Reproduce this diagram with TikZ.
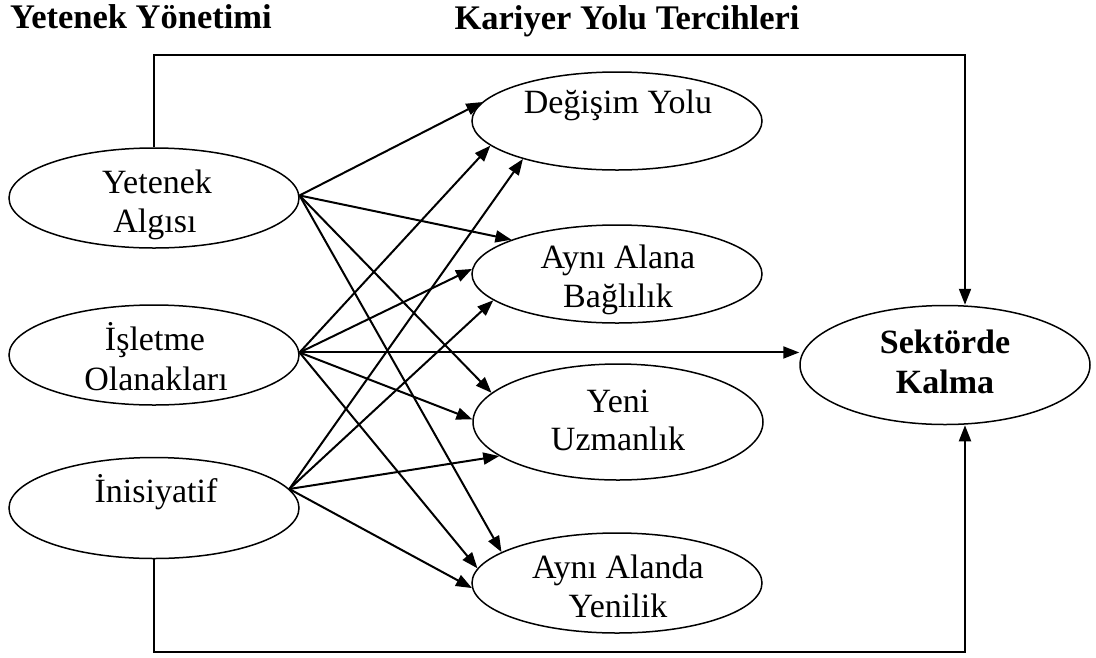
\documentclass[tikz,border=0pt]{standalone}
\usepackage{fontspec}
\setmainfont{Liberation Serif}
\usetikzlibrary{shapes.geometric,arrows.meta}
\begin{document}
\begin{tikzpicture}[x=1pt,y=-1pt,
  oval/.style={draw, ellipse, line width=1.5pt, inner sep=0pt, minimum width=290pt},
  lbl/.style={anchor=base, inner sep=0pt, font=\fontsize{34}{39}\selectfont},
  blbl/.style={lbl, font=\fontsize{34}{39}\selectfont\bfseries},
  ttl/.style={anchor=base, inner sep=0pt, font=\fontsize{34.5}{40}\selectfont\bfseries},
  link/.style={line width=2pt},
  arr/.style={link, -{Triangle[length=16pt,width=12pt]}}]
\useasboundingbox[fill=white] (0,0) rectangle (1096,657);

% headings
\node[ttl] (h1) at (141,28) {Yetenek Yönetimi};
\node[ttl] (h2) at (627,29) {Kariyer Yolu Tercihleri};

% talent management factors
\node[oval, minimum height=100pt] (YA) at (154,198) {};
\node[oval, minimum height=100pt] (IO) at (154,355) {};
\node[oval, minimum height=101pt] (In) at (154,508) {};
\node[lbl] (YAa) at (157,193) {Yetenek};
\node[lbl] (YAb) at (155,232) {Algısı};
\node[lbl] (IOa) at (155,350) {İşletme};
\node[lbl] (IOb) at (156,390) {Olanakları};
\node[lbl] (Ina) at (156,502) {İnisiyatif};

% career path preferences
\node[oval, minimum height=98pt]  (DY)  at (617,121) {};
\node[oval, minimum height=98pt]  (AAB) at (617,274) {};
\node[oval, minimum height=116pt] (YU)  at (618,422) {};
\node[oval, minimum height=100pt] (AAY) at (617,583) {};
\node[lbl] (DYa)  at (618,113) {Değişim Yolu};
\node[lbl] (AABa) at (618,268) {Aynı Alana};
\node[lbl] (AABb) at (618,307) {Bağlılık};
\node[lbl] (YUa)  at (618,412) {Yeni};
\node[lbl] (YUb)  at (618,450) {Uzmanlık};
\node[lbl] (AAYa) at (618,578) {Aynı Alanda};
\node[lbl] (AAYb) at (618,617) {Yenilik};

% outcome
\node[oval, minimum height=119pt] (SK) at (945,365) {};
\node[blbl] (SKa) at (945,353) {Sektörde};
\node[blbl] (SKb) at (945,393) {Kalma};

% paths from Yetenek Algısı
\draw[arr] (YA.1) -- (DY.172);
\draw[arr] (YA.1) -- (AAB.162);
\draw[arr] (YA.1) -- (YU.167);
\draw[arr] (YA.1) -- (AAY.165);

% paths from İşletme Olanakları
\draw[arr] (IO.1) -- (DY.191);
\draw[arr] (IO.1) -- (AAB.178);
\draw[arr] (IO.1) -- (YU.179);
\draw[arr] (IO.1) -- (AAY.174);
\draw[arr] (IO.1) -- (IO.1 -| SK.west);

% paths from İnisiyatif
\draw[arr] (In.8) -- (DY.202);
\draw[arr] (In.8) -- (AAB.192);
\draw[arr] (In.8) -- (YU.196);
\draw[arr] (In.8) -- (AAY.182);

% outer frame lines into Sektörde Kalma
\coordinate (ftl) at (154,55);
\coordinate (ftr) at (965,55);
\coordinate (fbl) at (154,652);
\coordinate (fbr) at (965,652);
\draw[arr] (YA.north) -- (ftl) -- (ftr) -- (ftr |- SK.north);
\draw[arr] (In.south) -- (fbl) -- (fbr) -- (fbr |- SK.south);
\end{tikzpicture}
\end{document}
